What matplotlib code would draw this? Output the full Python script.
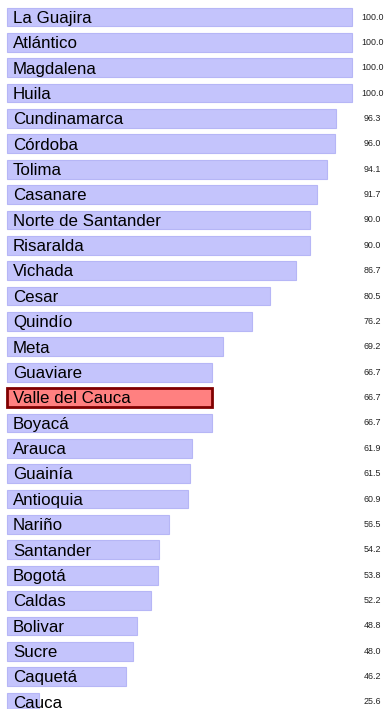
import matplotlib
matplotlib.use("Agg")
import matplotlib.pyplot as plt

departamentos = [
    "La Guajira", "Atlántico", "Magdalena", "Huila", "Cundinamarca", "Córdoba",
    "Tolima", "Casanare", "Norte de Santander", "Risaralda", "Vichada", "Cesar",
    "Quindío", "Meta", "Guaviare", "Valle del Cauca", "Boyacá", "Arauca",
    "Guainía", "Antioquia", "Nariño", "Santander", "Bogotá", "Caldas",
    "Bolivar", "Sucre", "Caquetá", "Cauca",
]
porcentajes = [
    100.0, 100.0, 100.0, 100.0, 96.3, 96.0, 94.1, 91.7, 90.0, 90.0, 86.7, 80.5,
    76.2, 69.2, 66.7, 66.7, 66.7, 61.9, 61.5, 60.9, 56.5, 54.2, 53.8, 52.2,
    48.8, 48.0, 46.2, 25.6,
]
destacado = "Valle del Cauca"

plt.rcParams["font.family"] = ["Liberation Sans", "DejaVu Sans"]

W, H, DPI = 385, 709, 100
fig = plt.figure(figsize=(W / DPI, H / DPI), dpi=DPI)
left_px, right_px = 7, 352
ax = fig.add_axes([left_px / W, 0, (right_px - left_px) / W, 1])

n = len(departamentos)
pitch = (702 - 17) / (n - 1)
y_top = -17 / pitch
y_bot = (H - 17) / pitch
ax.set_ylim(y_bot, y_top)
xmin = min(porcentajes) * 0.7
ax.set_xlim(xmin, 100)

for i, (nombre, valor) in enumerate(zip(departamentos, porcentajes)):
    if nombre == destacado:
        fc, ec, lw = "#ff8080", "#800000", 2.0
    else:
        fc, ec, lw = "#c4c4fc", "#b6b6f6", 0.8
    ax.barh(i, valor - xmin, left=xmin, height=0.74, color=fc, edgecolor=ec,
            linewidth=lw, clip_on=False)
    ax.text(6 / (right_px - left_px), i + 0.05, nombre,
            transform=ax.get_yaxis_transform(),
            ha="left", va="center", fontsize=12.2, color="black")
    ax.text((372.5 - left_px) / (right_px - left_px), i, f"{valor:.1f}",
            transform=ax.get_yaxis_transform(), ha="center", va="center",
            fontsize=6.4, color="#222222", clip_on=False)

ax.axis("off")
fig.savefig("out.png", dpi=DPI)
